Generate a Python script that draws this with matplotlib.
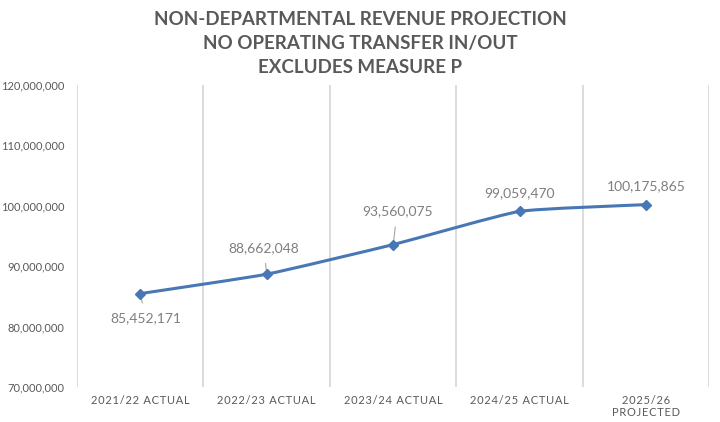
import matplotlib.pyplot as plt
import numpy as np
from matplotlib.path import Path
from matplotlib.patches import PathPatch
from matplotlib.ticker import FuncFormatter, FixedLocator

plt.rcParams['font.family'] = ['Lato', 'DejaVu Sans']

# chart data
categories = ["2021/22 ACTUAL", "2022/23 ACTUAL", "2023/24 ACTUAL", "2024/25 ACTUAL", "2025/26\nPROJECTED"]
revenue = [85452171, 88662048, 93560075, 99059470, 100175865]
title = "NON-DEPARTMENTAL REVENUE PROJECTION\nNO OPERATING TRANSFER IN/OUT\nEXCLUDES MEASURE P"

line_color = "#4877b6"
grid_color = "#d9d9d9"
text_gray = "#595959"


def spaced(s, sep="\u200a"):
    # fake letter spacing like the excel labels
    return "\n".join(sep.join(line) for line in s.split("\n"))


fig = plt.figure(figsize=(7.2, 4.22), dpi=100)
ax = fig.add_axes([0.107, 0.083, 0.878, 0.716])

x = np.arange(len(categories))

# lightly smoothed line (catmull-rom -> bezier), excel "smoothed line" look
pts = np.column_stack([x, revenue]).astype(float)
verts = [tuple(pts[0])]
codes = [Path.MOVETO]
for i in range(len(pts) - 1):
    p0 = pts[i - 1] if i > 0 else pts[i]
    p1 = pts[i]
    p2 = pts[i + 1]
    p3 = pts[i + 2] if i + 2 < len(pts) else pts[i + 1]
    c1 = p1 + (p2 - p0) / 14.0
    c2 = p2 - (p3 - p1) / 14.0
    verts += [tuple(c1), tuple(c2), tuple(p2)]
    codes += [Path.CURVE4] * 3
ax.add_patch(PathPatch(Path(verts, codes), fill=False, edgecolor=line_color, lw=2.2, zorder=3))
ax.plot(x, revenue, linestyle="none", marker="D", markersize=5.5, color=line_color, zorder=4)

# data labels (offsets in points), some with leader lines
label_offsets = [(4, -18), (-2, 19), (3, 24), (0, 13), (0, 13)]
leaders = [True, True, True, False, False]
for xi, v, off, lead in zip(x, revenue, label_offsets, leaders):
    ax.annotate(f"{v:,}", (xi, v), xytext=off, textcoords="offset points",
                ha="center", va="center", fontsize=10, color="#7f7f7f",
                arrowprops=dict(arrowstyle="-", color="#a6a6a6", lw=0.8,
                                shrinkA=5, shrinkB=3) if lead else None)

ax.set_xlim(-0.5, len(categories) - 0.5)
ax.set_ylim(70000000, 120000000)
ax.set_yticks(np.arange(70000000, 120000001, 10000000))
ax.yaxis.set_major_formatter(FuncFormatter(lambda v, p: f"{int(v):,}"))

ax.set_xticks(x)
ax.set_xticklabels([spaced(c) for c in categories], fontsize=8, color=text_gray, linespacing=1.05)
ax.xaxis.set_minor_locator(FixedLocator(np.arange(-0.5, len(categories), 1.0)))
ax.grid(which="minor", axis="x", color=grid_color, lw=1.3)
ax.tick_params(axis="both", which="both", length=0)
ax.tick_params(axis="x", pad=6)
ax.tick_params(axis="y", labelsize=8, labelcolor=text_gray, pad=9)

for s in ax.spines.values():
    s.set_visible(False)

fig.text(0.5, 0.975, title, ha="center", va="top", fontsize=13.5, fontweight="bold",
         color=text_gray, linespacing=1.5)

fig.savefig("out.png", dpi=100)
